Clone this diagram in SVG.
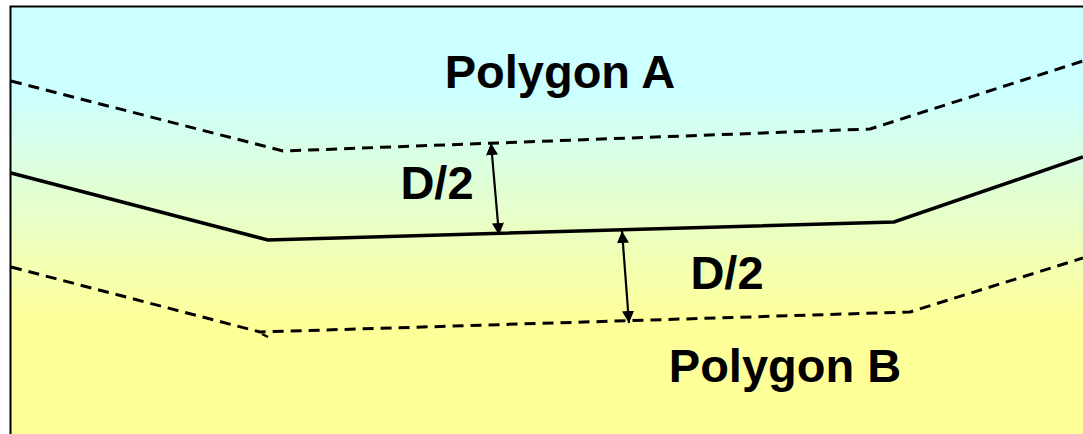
<svg xmlns="http://www.w3.org/2000/svg" width="1083" height="434" viewBox="0 0 1083 434">
<style>
.dash{fill:none;stroke:#000;stroke-width:3;stroke-dasharray:11 7}
.solid{fill:none;stroke:#000;stroke-width:3.5;stroke-linejoin:miter}
.arr{fill:none;stroke:#000;stroke-width:2.2;marker-start:url(#ah);marker-end:url(#ah)}
.lbl{font-family:"Liberation Sans",Arial,sans-serif;font-weight:bold;font-size:47px;fill:#000;text-anchor:middle}
</style>
<defs>
<linearGradient id="bg" gradientUnits="userSpaceOnUse" x1="0" y1="95" x2="0" y2="320">
<stop offset="0" stop-color="#CCFFFF"/>
<stop offset="1" stop-color="#FFFF99"/>
</linearGradient>
<marker id="ah" viewBox="0 0 10 10" refX="10" refY="5" markerWidth="5.5" markerHeight="5.5" orient="auto-start-reverse" markerUnits="strokeWidth">
<path d="M0,0 L10,5 L0,10 Z" fill="#000"/>
</marker>
</defs>
<rect id="frame" x="10.5" y="6.5" width="1100" height="460" fill="url(#bg)" stroke="#000" stroke-width="2"/>
<g id="connectors">
<path class="dash" d="M11,81 L283,151 L870,129 L1083,61"/>
<path class="solid" d="M11,173 L268,240 L894,222 L1083,157"/>
<path class="dash" d="M11,267 L260,332 L910,312 L1083,258"/>
<path d="M262,334 L268,337" stroke="#000" stroke-width="2.5"/>
<line class="arr" x1="491" y1="143" x2="499" y2="235"/>
<line class="arr" x1="622" y1="231" x2="629" y2="323"/>
</g>
<g id="polygonA"><text class="lbl" x="560" y="88">Polygon A</text></g>
<g id="polygonB"><text class="lbl" x="785" y="382">Polygon B</text></g>
<g id="d2a"><text class="lbl" x="437" y="199">D/2</text></g>
<g id="d2b"><text class="lbl" x="727" y="289">D/2</text></g>
</svg>
